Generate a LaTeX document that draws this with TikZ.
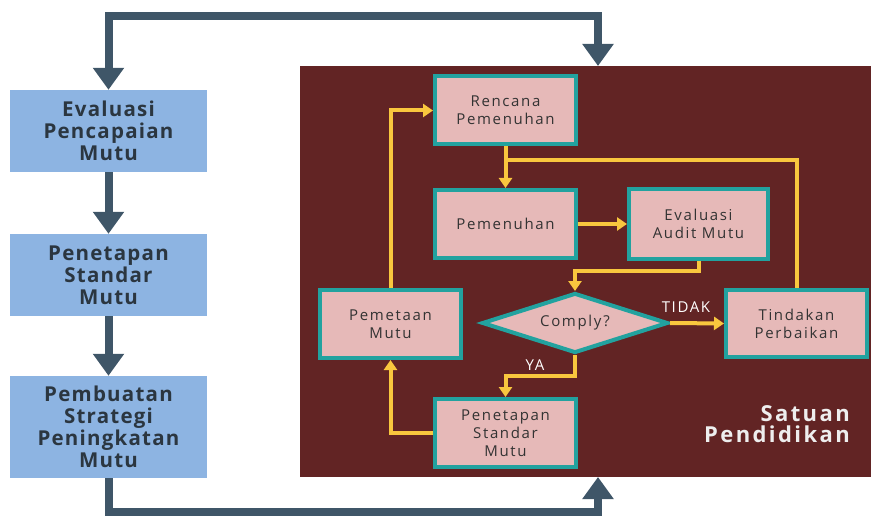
\documentclass[tikz,border=0pt]{standalone}
\usepackage{fontspec}
\setmainfont{Open Sans}[LetterSpace=11]
\newfontfamily\phasefont{Open Sans}[LetterSpace=6]
\usetikzlibrary{arrows.meta,shapes.geometric}

\definecolor{panelred}{HTML}{622424}
\definecolor{stepfill}{HTML}{E6B9B8}
\definecolor{rimteal}{HTML}{22A29F}
\definecolor{leftblue}{HTML}{8DB4E2}
\definecolor{slate}{HTML}{3F5668}
\definecolor{flowyellow}{HTML}{F9C73E}
\definecolor{inktext}{HTML}{333333}
\definecolor{darkink}{HTML}{2B3640}
\definecolor{unitwhite}{HTML}{EEEEEE}

\begin{document}
\begin{tikzpicture}[x=1pt,y=-1pt,
  phase/.style={fill=leftblue, minimum width=197pt, inner sep=0pt, align=center,
    font=\phasefont\bfseries\fontsize{20.5}{22}\selectfont, text=darkink},
  task/.style={draw=rimteal, line width=4pt, fill=stepfill, minimum width=141pt,
    minimum height=68pt, inner sep=0pt, align=center,
    font=\fontsize{15}{18}\selectfont, text=inktext},
  decide/.style={diamond, draw=rimteal, line width=4pt, fill=stepfill,
    minimum width=186pt, minimum height=60pt, inner sep=0pt, shape aspect=3,
    font=\fontsize{15}{18}\selectfont, text=inktext},
  cyclearrow/.style={draw=slate, line width=8pt, -{Triangle[width=30pt,length=22pt]}},
  cycleboth/.style={draw=slate, line width=8pt,
    {Triangle[width=30pt,length=22pt]}-{Triangle[width=30pt,length=22pt]}},
  flow/.style={draw=flowyellow, line width=4pt, -{Triangle[width=13pt,length=10pt]}},
  flowline/.style={draw=flowyellow, line width=4pt},
  tag/.style={text=white, font=\fontsize{15}{18}\selectfont, inner sep=0pt}
]
\useasboundingbox (0,0) rectangle (873,516);

% panel of the education unit
\node[fill=panelred, minimum width=571pt, minimum height=411pt, inner sep=0pt,
  anchor=north west] (panel) at (300,66) {};
\node[anchor=north east, align=right, inner sep=0pt, text=unitwhite,
  font=\bfseries\fontsize{22}{21}\selectfont] (unit) at (850,405) {Satuan\\Pendidikan};

% left column of phases
\node[phase, minimum height=82pt] (b1) at (108.5,131) {Evaluasi\\Pencapaian\\Mutu};
\node[phase, minimum height=82pt] (b2) at (108.5,275) {Penetapan\\Standar\\Mutu};
\node[phase, minimum height=102pt] (b3) at (108.5,427) {Pembuatan\\Strategi\\Peningkatan\\Mutu};

% outer cycle connectors
\coordinate (tl) at (108.5,16);
\coordinate (tr) at (598,16);
\coordinate (topin) at (598,66);
\coordinate (bl) at (108.5,512);
\coordinate (br) at (598,512);
\coordinate (botin) at (598,477);
\draw[cyclearrow] (b1.south) -- (b2.north);
\draw[cyclearrow] (b2.south) -- (b3.north);
\draw[cycleboth] (b1.north) -- (tl) -- (tr) -- (topin);
\draw[cyclearrow] (b3.south) -- (bl) -- (br) -- (botin);

% inner quality cycle
\node[task] (ren) at (505.5,110.5) {Rencana\\Pemenuhan};
\node[task] (pem) at (505.5,224) {Pemenuhan};
\node[task, minimum width=139pt, minimum height=70pt] (eva) at (698.5,224) {Evaluasi\\Audit Mutu};
\node[task] (pmt) at (390.5,324) {Pemetaan\\Mutu};
\node[task] (pen) at (505.5,433) {Penetapan\\Standar\\Mutu};
\node[task, minimum height=67pt] (tin) at (796.5,323.5) {Tindakan\\Perbaikan};
\node[decide] (dec) at (575,323) {Comply?};

\coordinate (jn) at (505.5,160);
\coordinate (ek) at (698.5,271);
\coordinate (yk) at (575,376);

\draw[flow] (ren.south) -- (pem.north);
\draw[flowline] (tin.north) |- (jn);
\draw[flow] (pem.east) -- (eva.west);
\draw[flow] (eva.south) -- (ek) -| (dec.north);
\draw[flow] (dec.east) -- (tin.west);
\draw[flow] (dec.south) -- (yk) -| (pen.north);
\draw[flow] (pen.west) -| (pmt.south);
\draw[flow] (pmt.north) |- (ren.west);

\node[tag] (tidak) at (686,307) {TIDAK};
\node[tag] (ya) at (535,365) {YA};
\end{tikzpicture}
\end{document}
